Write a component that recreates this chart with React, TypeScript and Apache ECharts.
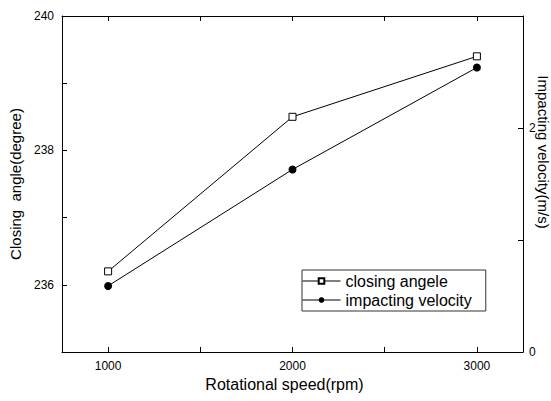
import React, { useEffect, useRef } from "react";
import * as echarts from "echarts";

const rpm = [1000, 2000, 3000];
const closingAngle = [236.2, 238.5, 239.4];
const impactVelocity = [0.59, 1.63, 2.54];

const xTickValues = [1000, 1500, 2000, 2500, 3000];
const xLabelValues = [1000, 2000, 3000];
const leftTickValues = [236, 237, 238, 239, 240];
const leftLabelValues = [236, 238, 240];
const rightTickValues = [0, 1, 2, 3];
const rightLabelValues = [0, 2];

const FONT = "'Liberation Sans', Arial, sans-serif";

export default function App() {
  const ref = useRef<HTMLDivElement>(null);
  useEffect(() => {
    if (!ref.current) return;
    const chart = echarts.init(ref.current, undefined, { renderer: "svg" });
    const axisLine = { show: true, lineStyle: { color: "#000", width: 1 } };
    const plain = (v: number) => String(v);
    chart.setOption({
      animation: false,
      backgroundColor: "#fff",
      textStyle: { fontFamily: FONT },
      grid: { left: 62, right: 28, top: 16, bottom: 49 },
      legend: {
        orient: "vertical",
        left: 302,
        top: 270,
        padding: [3, 14, 3, 0],
        itemGap: 3,
        itemWidth: 38,
        itemHeight: 7,
        borderColor: "#333",
        borderWidth: 1,
        lineStyle: { width: 1, color: "#000" },
        textStyle: { fontSize: 16, color: "#000", fontFamily: FONT },
        data: ["closing angele", "impacting velocity"],
      },
      xAxis: [
        {
          type: "value",
          min: 750,
          max: 3250,
          position: "bottom",
          name: "Rotational speed(rpm)",
          nameLocation: "middle",
          nameGap: 21,
          nameTextStyle: { fontSize: 16, color: "#000", fontFamily: FONT, padding: [0, 16, 0, 0] },
          axisLine,
          axisTick: { inside: true, length: 5, customValues: xTickValues, lineStyle: { color: "#000" } },
          axisLabel: { customValues: xLabelValues, formatter: plain, fontSize: 12, color: "#000", margin: 8, fontFamily: FONT },
          splitLine: { show: false },
        },
        {
          type: "value",
          min: 750,
          max: 3250,
          position: "top",
          axisLine,
          axisTick: { inside: true, length: 5, customValues: xTickValues, lineStyle: { color: "#000" } },
          axisLabel: { show: false },
          splitLine: { show: false },
        },
      ],
      yAxis: [
        {
          type: "value",
          min: 235,
          max: 240,
          position: "left",
          name: "Closing  angle(degree)",
          nameLocation: "middle",
          nameGap: 39,
          nameTextStyle: { fontSize: 15, color: "#000", fontFamily: FONT },
          axisLine,
          axisTick: { inside: true, length: 5, customValues: leftTickValues, lineStyle: { color: "#000" } },
          axisLabel: { customValues: leftLabelValues, formatter: plain, fontSize: 12, color: "#000", margin: 8, fontFamily: FONT },
          splitLine: { show: false },
        },
        {
          type: "value",
          min: 0,
          max: 3,
          position: "right",
          axisLine,
          axisTick: { inside: true, length: 5, customValues: rightTickValues, lineStyle: { color: "#000" } },
          axisLabel: { customValues: rightLabelValues, formatter: plain, fontSize: 12, color: "#000", margin: 6, fontFamily: FONT },
          splitLine: { show: false },
        },
      ],
      graphic: [
        {
          type: "text",
          x: 543,
          y: 152,
          rotation: -Math.PI / 2,
          style: {
            text: "Impacting velocity(m/s)",
            fontSize: 15,
            fontFamily: FONT,
            fill: "#000",
            align: "center",
            verticalAlign: "middle",
          },
        },
      ],
      series: [
        {
          name: "closing angele",
          type: "line",
          xAxisIndex: 0,
          yAxisIndex: 0,
          data: rpm.map((x, i) => [x, closingAngle[i]]),
          symbol: "rect",
          symbolSize: 7,
          lineStyle: { color: "#000", width: 1 },
          itemStyle: { color: "#fff", borderColor: "#000", borderWidth: 1 },
        },
        {
          name: "impacting velocity",
          type: "line",
          xAxisIndex: 0,
          yAxisIndex: 1,
          data: rpm.map((x, i) => [x, impactVelocity[i]]),
          symbol: "circle",
          symbolSize: 8,
          lineStyle: { color: "#000", width: 1 },
          itemStyle: { color: "#000", borderColor: "#000", borderWidth: 0 },
        },
      ],
    });
    return () => chart.dispose();
  }, []);
  return (
    <div
      ref={ref}
      style={{ position: "fixed", left: 0, top: 0, width: 551, height: 401 }}
    />
  );
}
